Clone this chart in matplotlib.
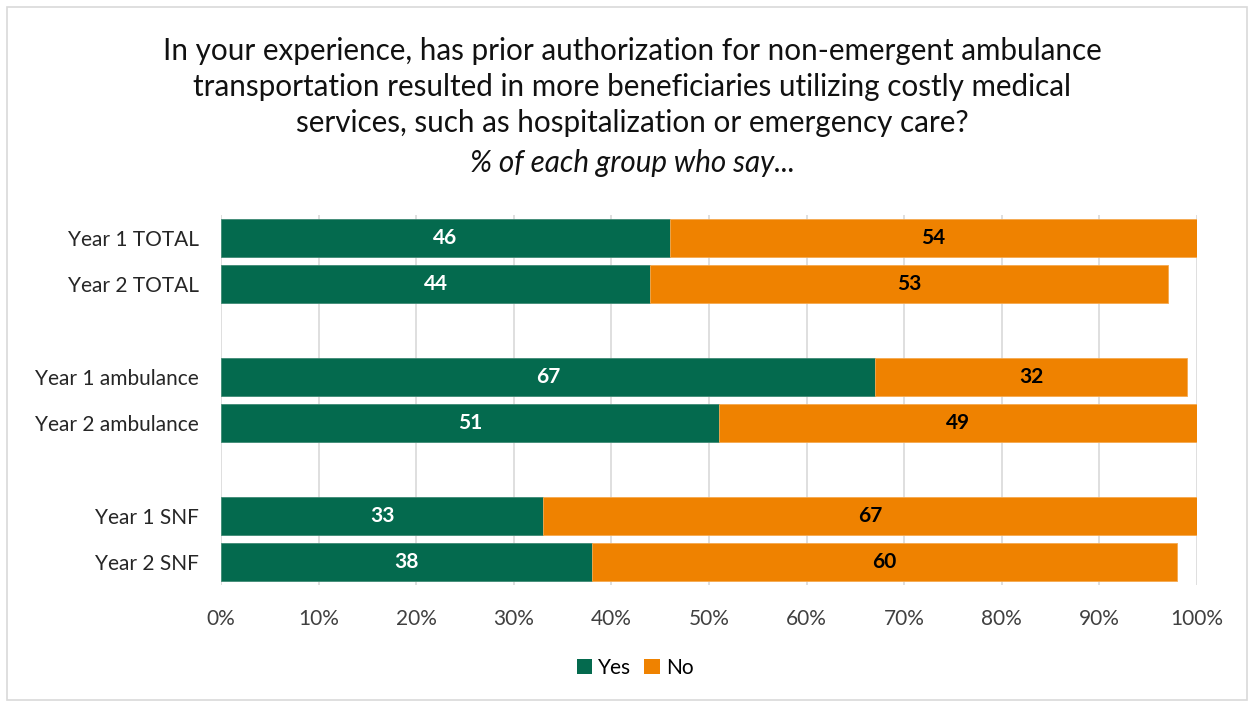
import matplotlib.pyplot as plt
from matplotlib.patches import Rectangle, Patch
import numpy as np

plt.rcParams['font.family'] = ['Lato', 'DejaVu Sans']

categories = ["Year 1 TOTAL", "Year 2 TOTAL", "Year 1 ambulance", "Year 2 ambulance",
              "Year 1 SNF", "Year 2 SNF"]
yes_vals = [46, 44, 67, 51, 33, 38]
no_vals = [54, 53, 32, 49, 67, 60]
x_ticks = [0, 10, 20, 30, 40, 50, 60, 70, 80, 90, 100]
x_tick_labels = [f"{t}%" for t in x_ticks]

title_lines = ["In your experience, has prior authorization for non-emergent ambulance",
               "transportation resulted in more beneficiaries utilizing costly medical",
               "services, such as hospitalization or emergency care?"]
subtitle = "% of each group who say..."

GREEN = "#046A4E"
ORANGE = "#EF8200"

fig = plt.figure(figsize=(12.5, 7.02), dpi=100)
fig.patch.set_facecolor("white")
fig.patches.append(Rectangle((7 / 1250, 2 / 702), 1240 / 1250, 693 / 702,
                             transform=fig.transFigure, fill=False,
                             edgecolor="#D9D9D9", linewidth=1.2))

ax = fig.add_axes([221 / 1250, 1 - 585 / 702, 976 / 1250, 370 / 702])

# grouped positions: pairs separated by an empty slot
pos = np.array([0, 1, 3, 4, 6, 7])
h = 0.82
ax.barh(pos, yes_vals, height=h, color=GREEN, edgecolor="#3F8A74", linewidth=0.6, zorder=3)
ax.barh(pos, no_vals, left=yes_vals, height=h, color=ORANGE, edgecolor="#F5A94F",
        linewidth=0.6, zorder=3)

for p, y, n in zip(pos, yes_vals, no_vals):
    ax.text(y / 2, p, f"{y}", ha="center", va="center", color="white",
            fontsize=15, fontweight="bold", zorder=4)
    ax.text(y + n / 2, p, f"{n}", ha="center", va="center", color="black",
            fontsize=15, fontweight="bold", zorder=4)

ax.set_xlim(0, 100)
ax.set_ylim(7.5, -0.5)
ax.set_xticks(x_ticks)
ax.set_xticklabels(x_tick_labels, fontsize=15, color="#404040")
ax.set_yticks(pos)
ax.set_yticklabels(categories, fontsize=15, color="#262626")
ax.tick_params(axis="y", length=0, pad=16)
ax.tick_params(axis="x", length=0, pad=17)
ax.grid(axis="x", color="#D9D9D9", linewidth=1.2, zorder=0)
for s in ax.spines.values():
    s.set_visible(False)

for i, line in enumerate(title_lines):
    fig.text(632 / 1250, 1 - (51 + 36 * i) / 702, line, ha="center", va="center",
             fontsize=21.3, color="#111111")
fig.text(632 / 1250, 1 - 163 / 702, subtitle, ha="center", va="center",
         fontsize=21.3, style="italic", color="#111111")

handles = [Patch(facecolor=GREEN, label="Yes"), Patch(facecolor=ORANGE, label="No")]
fig.legend(handles=handles, loc="center", bbox_to_anchor=(635 / 1250, 1 - 668 / 702),
           ncol=2, frameon=False, fontsize=15, handlelength=0.75, handleheight=0.75,
           handletextpad=0.3, columnspacing=0.6)

fig.savefig("out.png", dpi=100)
